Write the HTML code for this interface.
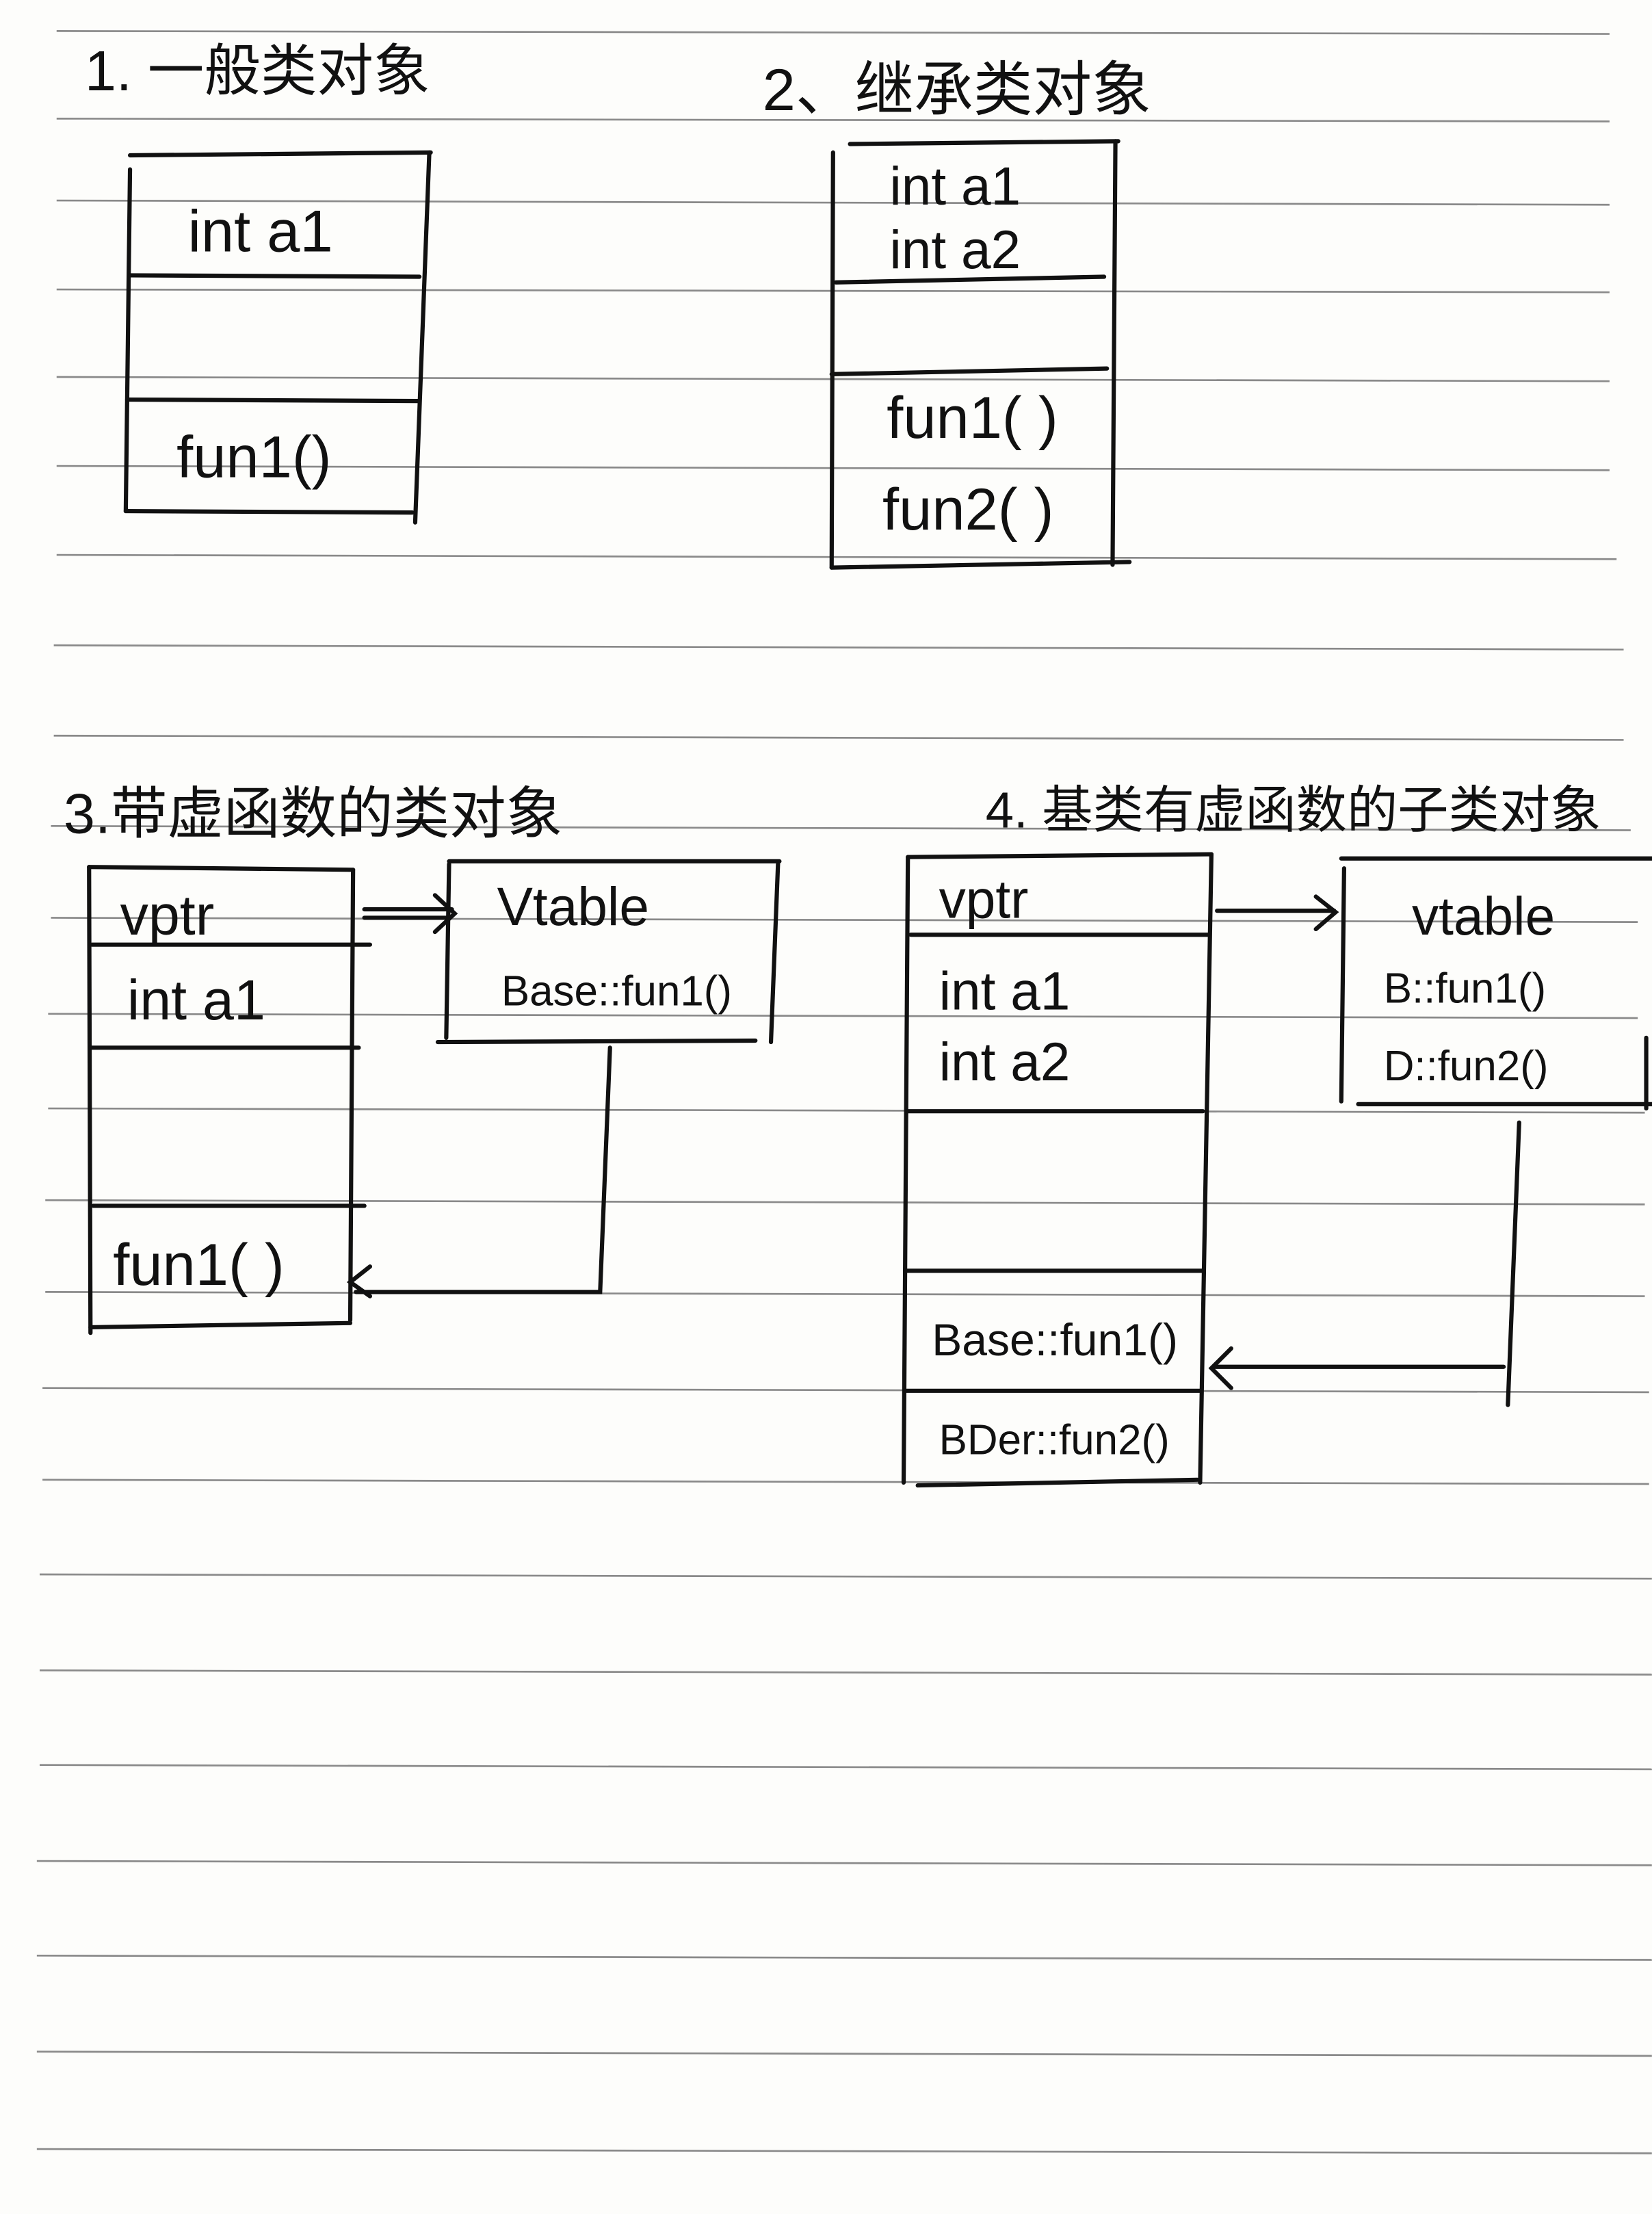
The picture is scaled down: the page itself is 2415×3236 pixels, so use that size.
<!DOCTYPE html>
<html><head><meta charset="utf-8"><style>
html,body{margin:0;padding:0;background:#fdfdfb;}
svg{display:block;}
text{font-family:"Liberation Sans","Noto Sans CJK SC",sans-serif;fill:#111;}
</style></head><body>
<svg width="2415" height="3236" viewBox="0 0 1170 1568" xmlns="http://www.w3.org/2000/svg">
<rect width="1170" height="1568" fill="#fdfdfb"/>
<g stroke="#8a8a8a" stroke-width="1.3">
<line x1="40" y1="22" x2="1140" y2="24"/>
<line x1="40" y1="84" x2="1140" y2="86"/>
<line x1="40" y1="142" x2="1140" y2="145"/>
<line x1="40" y1="205" x2="1140" y2="207"/>
<line x1="40" y1="267" x2="1140" y2="270"/>
<line x1="40" y1="330" x2="1140" y2="333"/>
<line x1="40" y1="393" x2="1145" y2="396"/>
<line x1="38" y1="457" x2="1150" y2="460"/>
<line x1="38" y1="521" x2="1150" y2="524"/>
<line x1="36" y1="585" x2="1155" y2="588"/>
<line x1="36" y1="650" x2="1160" y2="653"/>
<line x1="34" y1="718" x2="1160" y2="721"/>
<line x1="34" y1="785" x2="1165" y2="788"/>
<line x1="32" y1="850" x2="1165" y2="853"/>
<line x1="32" y1="915" x2="1165" y2="918"/>
<line x1="30" y1="983" x2="1168" y2="986"/>
<line x1="30" y1="1048" x2="1168" y2="1051"/>
<line x1="28" y1="1115" x2="1170" y2="1118"/>
<line x1="28" y1="1183" x2="1170" y2="1186"/>
<line x1="28" y1="1250" x2="1170" y2="1253"/>
<line x1="26" y1="1318" x2="1170" y2="1321"/>
<line x1="26" y1="1385" x2="1170" y2="1388"/>
<line x1="26" y1="1453" x2="1170" y2="1456"/>
<line x1="26" y1="1522" x2="1170" y2="1525"/>
</g>
<g stroke="#111" stroke-width="3" fill="none" stroke-linecap="round">
<line x1="92" y1="110" x2="305" y2="108"/>
<line x1="92" y1="120" x2="89" y2="362"/>
<line x1="304" y1="108" x2="294" y2="370"/>
<line x1="92" y1="195" x2="297" y2="196"/>
<line x1="90" y1="283" x2="296" y2="284"/>
<line x1="89" y1="362" x2="292" y2="363"/>
<line x1="602" y1="102" x2="792" y2="100"/>
<line x1="590" y1="108" x2="589" y2="402"/>
<line x1="790" y1="100" x2="788" y2="400"/>
<line x1="592" y1="200" x2="782" y2="196"/>
<line x1="589" y1="265" x2="784" y2="261"/>
<line x1="589" y1="402" x2="800" y2="398"/>
<line x1="63" y1="614" x2="250" y2="616"/>
<line x1="63" y1="614" x2="64" y2="944"/>
<line x1="250" y1="616" x2="248" y2="935"/>
<line x1="65" y1="669" x2="262" y2="669"/>
<line x1="64" y1="742" x2="254" y2="742"/>
<line x1="66" y1="854" x2="258" y2="854"/>
<line x1="64" y1="940" x2="248" y2="937"/>
<line x1="258" y1="644" x2="320" y2="644"/>
<line x1="258" y1="650" x2="318" y2="650"/>
<polyline points="308,634 322,647 308,660"/>
<line x1="318" y1="610" x2="552" y2="610"/>
<line x1="318" y1="612" x2="316" y2="735"/>
<line x1="551" y1="612" x2="546" y2="738"/>
<line x1="310" y1="738" x2="535" y2="737"/>
<polyline points="432,742 425,915 252,915"/>
<polyline points="262,897 248,908 262,918"/>
<line x1="643" y1="607" x2="858" y2="605"/>
<line x1="643" y1="607" x2="640" y2="1050"/>
<line x1="858" y1="605" x2="850" y2="1050"/>
<line x1="645" y1="662" x2="856" y2="662"/>
<line x1="643" y1="787" x2="852" y2="787"/>
<line x1="641" y1="900" x2="852" y2="900"/>
<line x1="641" y1="985" x2="850" y2="985"/>
<line x1="650" y1="1052" x2="848" y2="1048"/>
<line x1="862" y1="645" x2="945" y2="645"/>
<polyline points="932,635 946,646 932,658"/>
<line x1="950" y1="608" x2="1170" y2="608"/>
<line x1="952" y1="615" x2="950" y2="780"/>
<line x1="1166" y1="735" x2="1166" y2="785"/>
<line x1="962" y1="782" x2="1170" y2="782"/>
<line x1="1076" y1="795" x2="1068" y2="995"/>
<line x1="1065" y1="968" x2="860" y2="968"/>
<polyline points="872,955 858,969 872,983"/>
</g>
<text x="60" y="64" font-size="40">1. 一般类对象</text>
<text x="540" y="78" font-size="42">2、继承类对象</text>
<text x="45" y="590" font-size="40">3.带虚函数的类对象</text>
<text x="698" y="586" font-size="36">4. 基类有虚函数的子类对象</text>
<text x="133" y="178" font-size="42">int a1</text>
<text x="125" y="338" font-size="42">fun1()</text>
<text x="630" y="145" font-size="38">int  a1</text>
<text x="630" y="190" font-size="38">int  a2</text>
<text x="628" y="310" font-size="42">fun1( )</text>
<text x="625" y="375" font-size="42">fun2( )</text>
<text x="85" y="662" font-size="40">vptr</text>
<text x="90" y="722" font-size="40">int a1</text>
<text x="80" y="910" font-size="42">fun1( )</text>
<text x="352" y="655" font-size="38">Vtable</text>
<text x="355" y="712" font-size="30">Base::fun1()</text>
<text x="665" y="650" font-size="38">vptr</text>
<text x="665" y="715" font-size="38">int a1</text>
<text x="665" y="765" font-size="38">int a2</text>
<text x="660" y="960" font-size="32">Base::fun1()</text>
<text x="665" y="1030" font-size="30">BDer::fun2()</text>
<text x="1000" y="662" font-size="38">vtable</text>
<text x="980" y="710" font-size="30">B::fun1()</text>
<text x="980" y="765" font-size="30">D::fun2()</text>
</svg>
</body></html>
